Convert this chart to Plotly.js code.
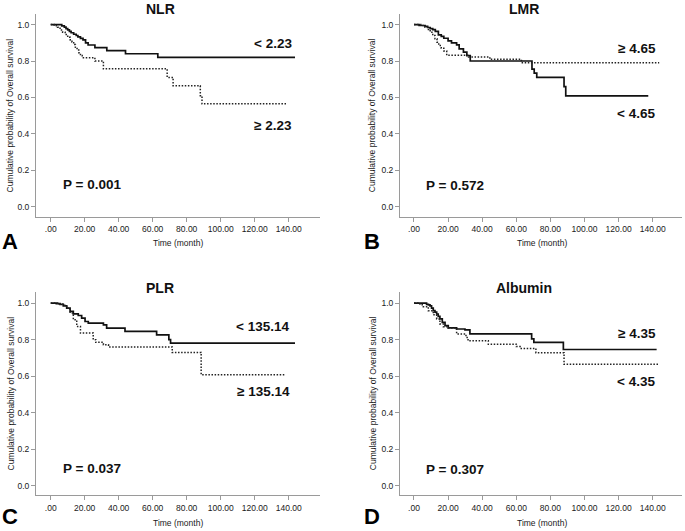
<!DOCTYPE html>
<html>
<head>
<meta charset="utf-8">
<script src="https://cdn.plot.ly/plotly-3.0.1.min.js"></script>
<style>html,body{margin:0;padding:0;background:#fff;}#chart{width:685px;height:531px;}</style>
</head>
<body>
<div id="chart"></div>
<script>
// ---- Data ----
var panelTitles = ["NLR", "LMR", "PLR", "Albumin"];
var panelLetters = ["A", "B", "C", "D"];
var pValues = ["P = 0.001", "P = 0.572", "P = 0.037", "P = 0.307"];
var xTickVals = [0, 20, 40, 60, 80, 100, 120, 140];
var xTickText = [".00", "20.00", "40.00", "60.00", "80.00", "100.00", "120.00", "140.00"];
var yTickVals = [0, 0.2, 0.4, 0.6, 0.8, 1.0];
var yTickText = ["0.0", "0.2", "0.4", "0.6", "0.8", "1.0"];

// NLR
var nlrLowLabel = "< 2.23";
var nlrLowT = [0, 6.5, 8, 9, 10, 11, 12, 13.5, 15, 16, 17.5, 19, 20.5, 22, 26, 33, 44, 63, 143.7];
var nlrLowS = [1.0, 0.993, 0.986, 0.978, 0.971, 0.963, 0.955, 0.947, 0.94, 0.932, 0.924, 0.916, 0.90, 0.888, 0.873, 0.857, 0.840, 0.820, 0.820];
var nlrHighLabel = "≥ 2.23";
var nlrHighT = [0, 2, 4, 5.5, 7, 8.5, 10, 11.5, 12.5, 13.5, 14.5, 15.5, 16.5, 17.5, 18.5, 26, 31, 68.5, 72, 88, 89, 138.4];
var nlrHighS = [1.0, 0.993, 0.985, 0.97, 0.958, 0.945, 0.93, 0.915, 0.905, 0.89, 0.875, 0.86, 0.845, 0.83, 0.818, 0.80, 0.757, 0.71, 0.664, 0.61, 0.565, 0.565];

// LMR
var lmrLowLabel = "< 4.65";
var lmrLowT = [0, 3, 6.5, 8, 9.5, 11, 12.5, 14.3, 16, 17.5, 20, 22, 25, 26.5, 29, 31, 33, 69.2, 70.5, 72, 88, 89, 137.4];
var lmrLowS = [1.0, 0.995, 0.99, 0.984, 0.978, 0.972, 0.963, 0.943, 0.935, 0.925, 0.91, 0.899, 0.889, 0.867, 0.849, 0.83, 0.80, 0.756, 0.733, 0.71, 0.66, 0.609, 0.609];
var lmrHighLabel = "≥ 4.65";
var lmrHighT = [0, 4, 6.5, 8, 9.5, 11, 12.3, 13.5, 14.5, 16, 17.5, 19.2, 32, 44.5, 63, 143.8];
var lmrHighS = [1.0, 0.995, 0.985, 0.973, 0.958, 0.94, 0.922, 0.903, 0.885, 0.87, 0.855, 0.831, 0.822, 0.809, 0.791, 0.791];

// PLR
var plrLowLabel = "< 135.14";
var plrLowT = [0, 3.3, 5.5, 7.4, 9.4, 11.4, 13.3, 16.2, 18.2, 20.2, 22.1, 31, 32.9, 43.7, 62.3, 69.5, 70.5, 143.7];
var plrLowS = [1.0, 0.997, 0.993, 0.985, 0.972, 0.954, 0.941, 0.932, 0.918, 0.899, 0.89, 0.881, 0.863, 0.845, 0.826, 0.80, 0.781, 0.781];
var plrHighLabel = "≥ 135.14";
var plrHighT = [0, 5, 7, 9.4, 11.4, 13.3, 15.3, 17.5, 25, 26.5, 31, 34, 71.5, 88.5, 137.8];
var plrHighS = [1.0, 0.995, 0.988, 0.972, 0.945, 0.909, 0.872, 0.836, 0.80, 0.785, 0.772, 0.76, 0.73, 0.608, 0.608];

// Albumin
var albHighLabel = "≥ 4.35";
var albHighT = [0, 7.4, 8.5, 9.4, 10.3, 11.3, 12.3, 13.3, 14.2, 15.2, 16.6, 18.2, 20.1, 25, 29.9, 32.8, 69, 70.3, 87.6, 142.3];
var albHighS = [1.0, 0.993, 0.99, 0.985, 0.972, 0.958, 0.95, 0.94, 0.927, 0.913, 0.894, 0.876, 0.864, 0.858, 0.853, 0.831, 0.804, 0.785, 0.746, 0.746];
var albLowLabel = "< 4.35";
var albLowT = [0, 3.5, 5.5, 8.4, 11.3, 13.3, 15.2, 17.2, 20.1, 24, 25, 30.5, 31.7, 43.6, 60, 62.2, 71.5, 88, 143.3];
var albLowS = [1.0, 0.99, 0.98, 0.958, 0.936, 0.913, 0.885, 0.871, 0.864, 0.858, 0.831, 0.812, 0.794, 0.775, 0.762, 0.752, 0.728, 0.665, 0.665];

// ---- Build ----
var FONT = "Arial, 'Liberation Sans', sans-serif";
var axSuffix = ["", "2", "3", "4"];
var curves = [
  [[nlrLowT, nlrLowS, "solid"], [nlrHighT, nlrHighS, "dot"]],
  [[lmrLowT, lmrLowS, "solid"], [lmrHighT, lmrHighS, "dot"]],
  [[plrLowT, plrLowS, "solid"], [plrHighT, plrHighS, "dot"]],
  [[albHighT, albHighS, "solid"], [albLowT, albLowS, "dot"]]
];
var traces = [];
curves.forEach(function (pair, i) {
  pair.forEach(function (c) {
    var solid = c[2] === "solid";
    traces.push({
      x: c[0], y: c[1], type: "scatter", mode: "lines",
      line: {shape: "hv", color: solid ? "#111" : "#222", width: solid ? 1.7 : 1.5, dash: solid ? "solid" : "1.5px,1.6px"},
      xaxis: "x" + axSuffix[i], yaxis: "y" + axSuffix[i],
      hoverinfo: "skip", showlegend: false
    });
  });
});

var W = 685, H = 531;
var colX = [[36, 320], [400, 681.7]];
var rowY = [[14, 217], [291.7, 495.3]];
var colRange = [[-8.65, 158.4], [-8.2, 157]];
var rowRange = [[-0.056, 1.058], [-0.051, 1.062]];

var layout = {
  width: W, height: H,
  margin: {l: 0, r: 0, t: 0, b: 0},
  paper_bgcolor: "#fff", plot_bgcolor: "#fff",
  showlegend: false,
  font: {family: FONT, color: "#222"},
  annotations: []
};

for (var i = 0; i < 4; i++) {
  var col = i % 2, row = Math.floor(i / 2);
  var xa = {
    domain: [colX[col][0] / W, colX[col][1] / W],
    range: colRange[col],
    anchor: "y" + axSuffix[i],
    showgrid: false, zeroline: false,
    showline: true, linecolor: "#9a9a9a", linewidth: 1,
    ticks: "outside", ticklen: 4, tickcolor: "#9a9a9a", tickwidth: 1,
    tickmode: "array", tickvals: xTickVals, ticktext: xTickText,
    tickfont: {family: FONT, size: 8.5, color: "#1a1a1a"}
  };
  var ya = {
    domain: [1 - rowY[row][1] / H, 1 - rowY[row][0] / H],
    range: rowRange[row],
    anchor: "x" + axSuffix[i],
    showgrid: false, zeroline: false,
    showline: true, linecolor: "#9a9a9a", linewidth: 1,
    ticks: "outside", ticklen: 4, tickcolor: "#9a9a9a", tickwidth: 1,
    tickmode: "array", tickvals: yTickVals, ticktext: yTickText,
    tickfont: {family: FONT, size: 8.5, color: "#1a1a1a"}
  };
  layout["xaxis" + axSuffix[i]] = xa;
  layout["yaxis" + axSuffix[i]] = ya;

  // panel title
  layout.annotations.push({
    xref: "paper", yref: "paper",
    x: (col === 0 ? 160 : 523.5) / W, y: 1 - (row === 0 ? 9 : 288) / H,
    text: "<b>" + panelTitles[i] + "</b>", showarrow: false,
    font: {family: FONT, size: 14, color: "#111"}, xanchor: "center", yanchor: "middle"
  });
  // panel letter
  var letter = {
    xref: "paper", yref: "paper",
    x: (col === 0 ? 9.5 : 372) / W,
    text: "<b>" + panelLetters[i] + "</b>", showarrow: false,
    font: {family: FONT, size: 22, color: "#000"}, xanchor: "center"
  };
  if (row === 0) { letter.y = 1 - 241 / H; letter.yanchor = "middle"; }
  else { letter.y = 0; letter.yanchor = "bottom"; }
  layout.annotations.push(letter);
  // x axis title
  layout.annotations.push({
    xref: "paper", yref: "paper",
    x: (col === 0 ? 178 : 542) / W, y: 1 - (row === 0 ? 243 : 522.5) / H,
    text: "Time (month)", showarrow: false,
    font: {family: FONT, size: 8.5, color: "#1a1a1a"}, xanchor: "center", yanchor: "middle"
  });
  // y axis title
  layout.annotations.push({
    xref: "paper", yref: "paper",
    x: (col === 0 ? 10 : 372.7) / W, y: 1 - ((rowY[row][0] + rowY[row][1]) / 2) / H,
    text: "Cumulative probability of Overall survival", showarrow: false, textangle: -90,
    font: {family: FONT, size: 8.5, color: "#1a1a1a"}, xanchor: "center", yanchor: "middle"
  });
}

function esc(s) { return s.replace(/</g, "&lt;"); }
var groupLabels = [
  [nlrLowLabel, 130.8, 0.898, nlrHighLabel, 130.8, 0.446],
  [lmrHighLabel, 130.8, 0.867, lmrLowLabel, 130.2, 0.513],
  [plrLowLabel, 124.3, 0.872, plrHighLabel, 124.9, 0.514],
  [albHighLabel, 130.8, 0.833, albLowLabel, 130.2, 0.572]
];
var pPos = [[24.3, 0.12], [24.0, 0.115], [24.3, 0.093], [24.0, 0.09]];
groupLabels.forEach(function (g, i) {
  [[g[0], g[1], g[2]], [g[3], g[4], g[5]]].forEach(function (a) {
    layout.annotations.push({
      xref: "x" + axSuffix[i], yref: "y" + axSuffix[i], x: a[1], y: a[2],
      text: "<b>" + esc(a[0]) + "</b>", showarrow: false,
      font: {family: FONT, size: 13.5, color: "#111"}, xanchor: "center", yanchor: "middle"
    });
  });
  layout.annotations.push({
    xref: "x" + axSuffix[i], yref: "y" + axSuffix[i], x: pPos[i][0], y: pPos[i][1],
    text: "<b>" + pValues[i] + "</b>", showarrow: false,
    font: {family: FONT, size: 13.5, color: "#111"}, xanchor: "center", yanchor: "middle"
  });
});

Plotly.newPlot("chart", traces, layout, {staticPlot: true, displayModeBar: false});
</script>
</body>
</html>
